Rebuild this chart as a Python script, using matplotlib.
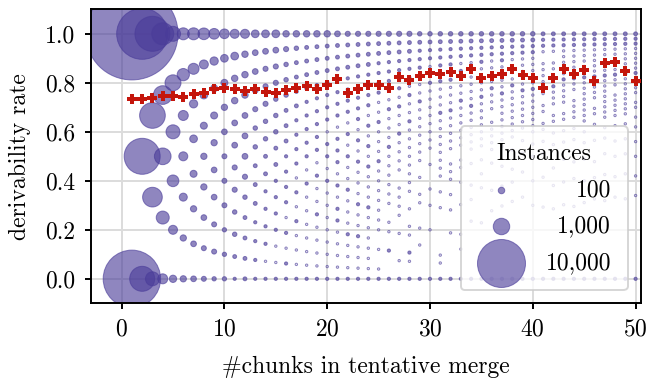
import numpy as np
import matplotlib.pyplot as plt

plt.rcParams.update({
    'font.family': 'serif',
    'font.serif': ['cmr10'],
    'mathtext.fontset': 'cm',
    'axes.formatter.use_mathtext': True,
    'font.size': 17,
})

# instances per (n chunks, k derivable) -> rate k/n
# n = 1..10 read as counts, n >= 11 as size classes (k = 0 .. n, bottom to top)
counts_small = [
    [14500, 38400],
    [2510, 5470, 11360],
    [690, 1490, 2665, 5160],
    [310, 580, 1030, 1330, 1900],
    [138, 238, 453, 690, 937, 809],
    [91, 91, 176, 238, 310, 510, 481],
    [68, 68, 91, 123, 159, 193, 391, 481],
    [45, 45, 68, 91, 91, 123, 159, 238, 453],
    [27, 45, 45, 68, 68, 91, 123, 123, 193, 365],
    [27, 27, 27, 45, 45, 45, 68, 91, 123, 159, 287],
]
class_counts = {'.': 0, '1': 1, '2': 8, '3': 18, '4': 30, '5': 48,
                '6': 70, '7': 97, '8': 160, '9': 240}
codes_large = [
    "234455667789",
    "3333456667779",
    "22223334456668",
    "212222334455568",
    "2112222334445568",
    "22121222233344457",
    "211121212222333347",
    "2111111212222233337",
    "21111211212222233337",
    "211111112122122233337",
    "2111122121222122223336",
    "21112111211212122223335",
    "211121121112121222223335",
    "2111111211121212122223335",
    "21.1.111111121112112222335",
    "2..2.11.1111112111212222335",
    "2.1..1.1111.1111211212222335",
    "2.12.11.1.1111111121121222335",
    "2...1.1..11.1.1111111211122234",
    "2.....1..1.1..1.111111112112234",
    "2.11.....1.1.1111111121112122234",
    "2.....1..1.1.111.1111121112122234",
    "2...1.1...1..1.11.1111112111212234",
    "2.......1..1.1..1.11111121111212234",
    "2.......1....1.1.1.11111112111122234",
    "2.........1..1...1.11111.111211112234",
    "2..........1..1..1..111111112111122234",
    "2...........1..1.1..1.11111111211112234",
    "2............1...1..1.1.1111112111112234",
    "2...........1...1...1.1.11111112111112234",
    "2...........1....1...1.1.11.11.121111.1223",
    "2...........1...1..1...1.1.11.11121111.1223",
    "2............1...1...1..1.1.11.1111211111223",
    "2............1....1..1...1.1.1111.11211111223",
    "2.............1...1...1..1.1.11111111211111223",
    "2..............1...1..1...1..1.11.1111211111223",
    "2..............1....1...1..1.1.11111111211111223",
    "2...............1...1...1..1..1.11111.11211111223",
    "2...............1....1...1..1..1.11111111211111223",
    "2................1...1...1..1..1.1.11.1111211111223",
]

chunks = list(range(1, 51))
mean_rate = [0.735, 0.735, 0.739, 0.745, 0.748, 0.741, 0.755, 0.758, 0.774, 0.780,
             0.775, 0.766, 0.773, 0.763, 0.760, 0.772, 0.780, 0.787, 0.774, 0.793,
             0.815, 0.760, 0.773, 0.790, 0.790, 0.778, 0.823, 0.813, 0.827, 0.839,
             0.834, 0.843, 0.826, 0.857, 0.819, 0.827, 0.834, 0.856, 0.830, 0.820,
             0.777, 0.820, 0.856, 0.837, 0.854, 0.809, 0.880, 0.884, 0.847, 0.809]
legend_counts = [100, 1000, 10000]
legend_labels = ['100', '1,000', '10,000']

purple = (0.29, 0.235, 0.60)
EDGE_PX = 1.0


def marker_area(c):
    d = 0.461 * np.sqrt(c) + 2.89 - EDGE_PX
    return (d * 72 / 100) ** 2


xs, ys, cs = [], [], []
for n in chunks:
    if n <= 10:
        col = counts_small[n - 1]
    else:
        code = codes_large[n - 11]
        assert len(code) == n + 1, (n, len(code))
        col = [class_counts[ch] for ch in code]
    for k, c in enumerate(col):
        if c > 0:
            xs.append(n)
            ys.append(k / n)
            cs.append(c)
cs = np.array(cs, dtype=float)

face = np.array([purple + ((0.62,) if c > 2 else (0.12,)) for c in cs])

fig = plt.figure(figsize=(6.47, 3.8), dpi=100)
ax = fig.add_axes([0.1403, 0.2018, 0.8500, 0.7737])

ax.scatter(xs, ys, s=marker_area(cs), facecolors=face,
           edgecolors=[purple + (0.62,)], linewidths=EDGE_PX * 0.72, zorder=2)
ax.plot(chunks, mean_rate, ls='none', marker='P', ms=7, mew=0,
        color='#c4160c', zorder=3)

handles = [ax.scatter([], [], s=marker_area(c), facecolors=[purple + (0.62,)],
                      edgecolors=[purple + (0.62,)], linewidths=EDGE_PX * 0.72)
           for c in legend_counts]
leg = ax.legend(handles, legend_labels, title='Instances',
                loc='lower right', framealpha=0.8, edgecolor='#cccccc',
                borderaxespad=0.55, labelspacing=0.6, handletextpad=0.9,
                borderpad=0.7, scatterpoints=1)
leg.get_frame().set_linewidth(1.4)

ax.set_xlim(-3, 50.5)
ax.set_ylim(-0.1, 1.1)
ax.set_xticks(range(0, 51, 10))
ax.set_yticks(np.arange(0, 1.01, 0.2))
ax.set_yticklabels(['%.1f' % v for v in np.arange(0, 1.01, 0.2)])
ax.grid(True, color='#dcdcdc', lw=1.4)
ax.set_axisbelow(True)
for sp in ax.spines.values():
    sp.set_linewidth(1.4)
ax.tick_params(width=1.4, length=4, pad=7)
ax.set_xlabel('#chunks in tentative merge', labelpad=11)
ax.set_ylabel('derivability rate', labelpad=10)

# right-align legend labels
fig.canvas.draw()
r = fig.canvas.get_renderer()
widths = [t.get_window_extent(r).width for t in leg.get_texts()]
w = max(widths)
for t, wi in zip(leg.get_texts(), widths):
    t.set_position((w - wi, 0))

fig.savefig('out.png', dpi=100)
